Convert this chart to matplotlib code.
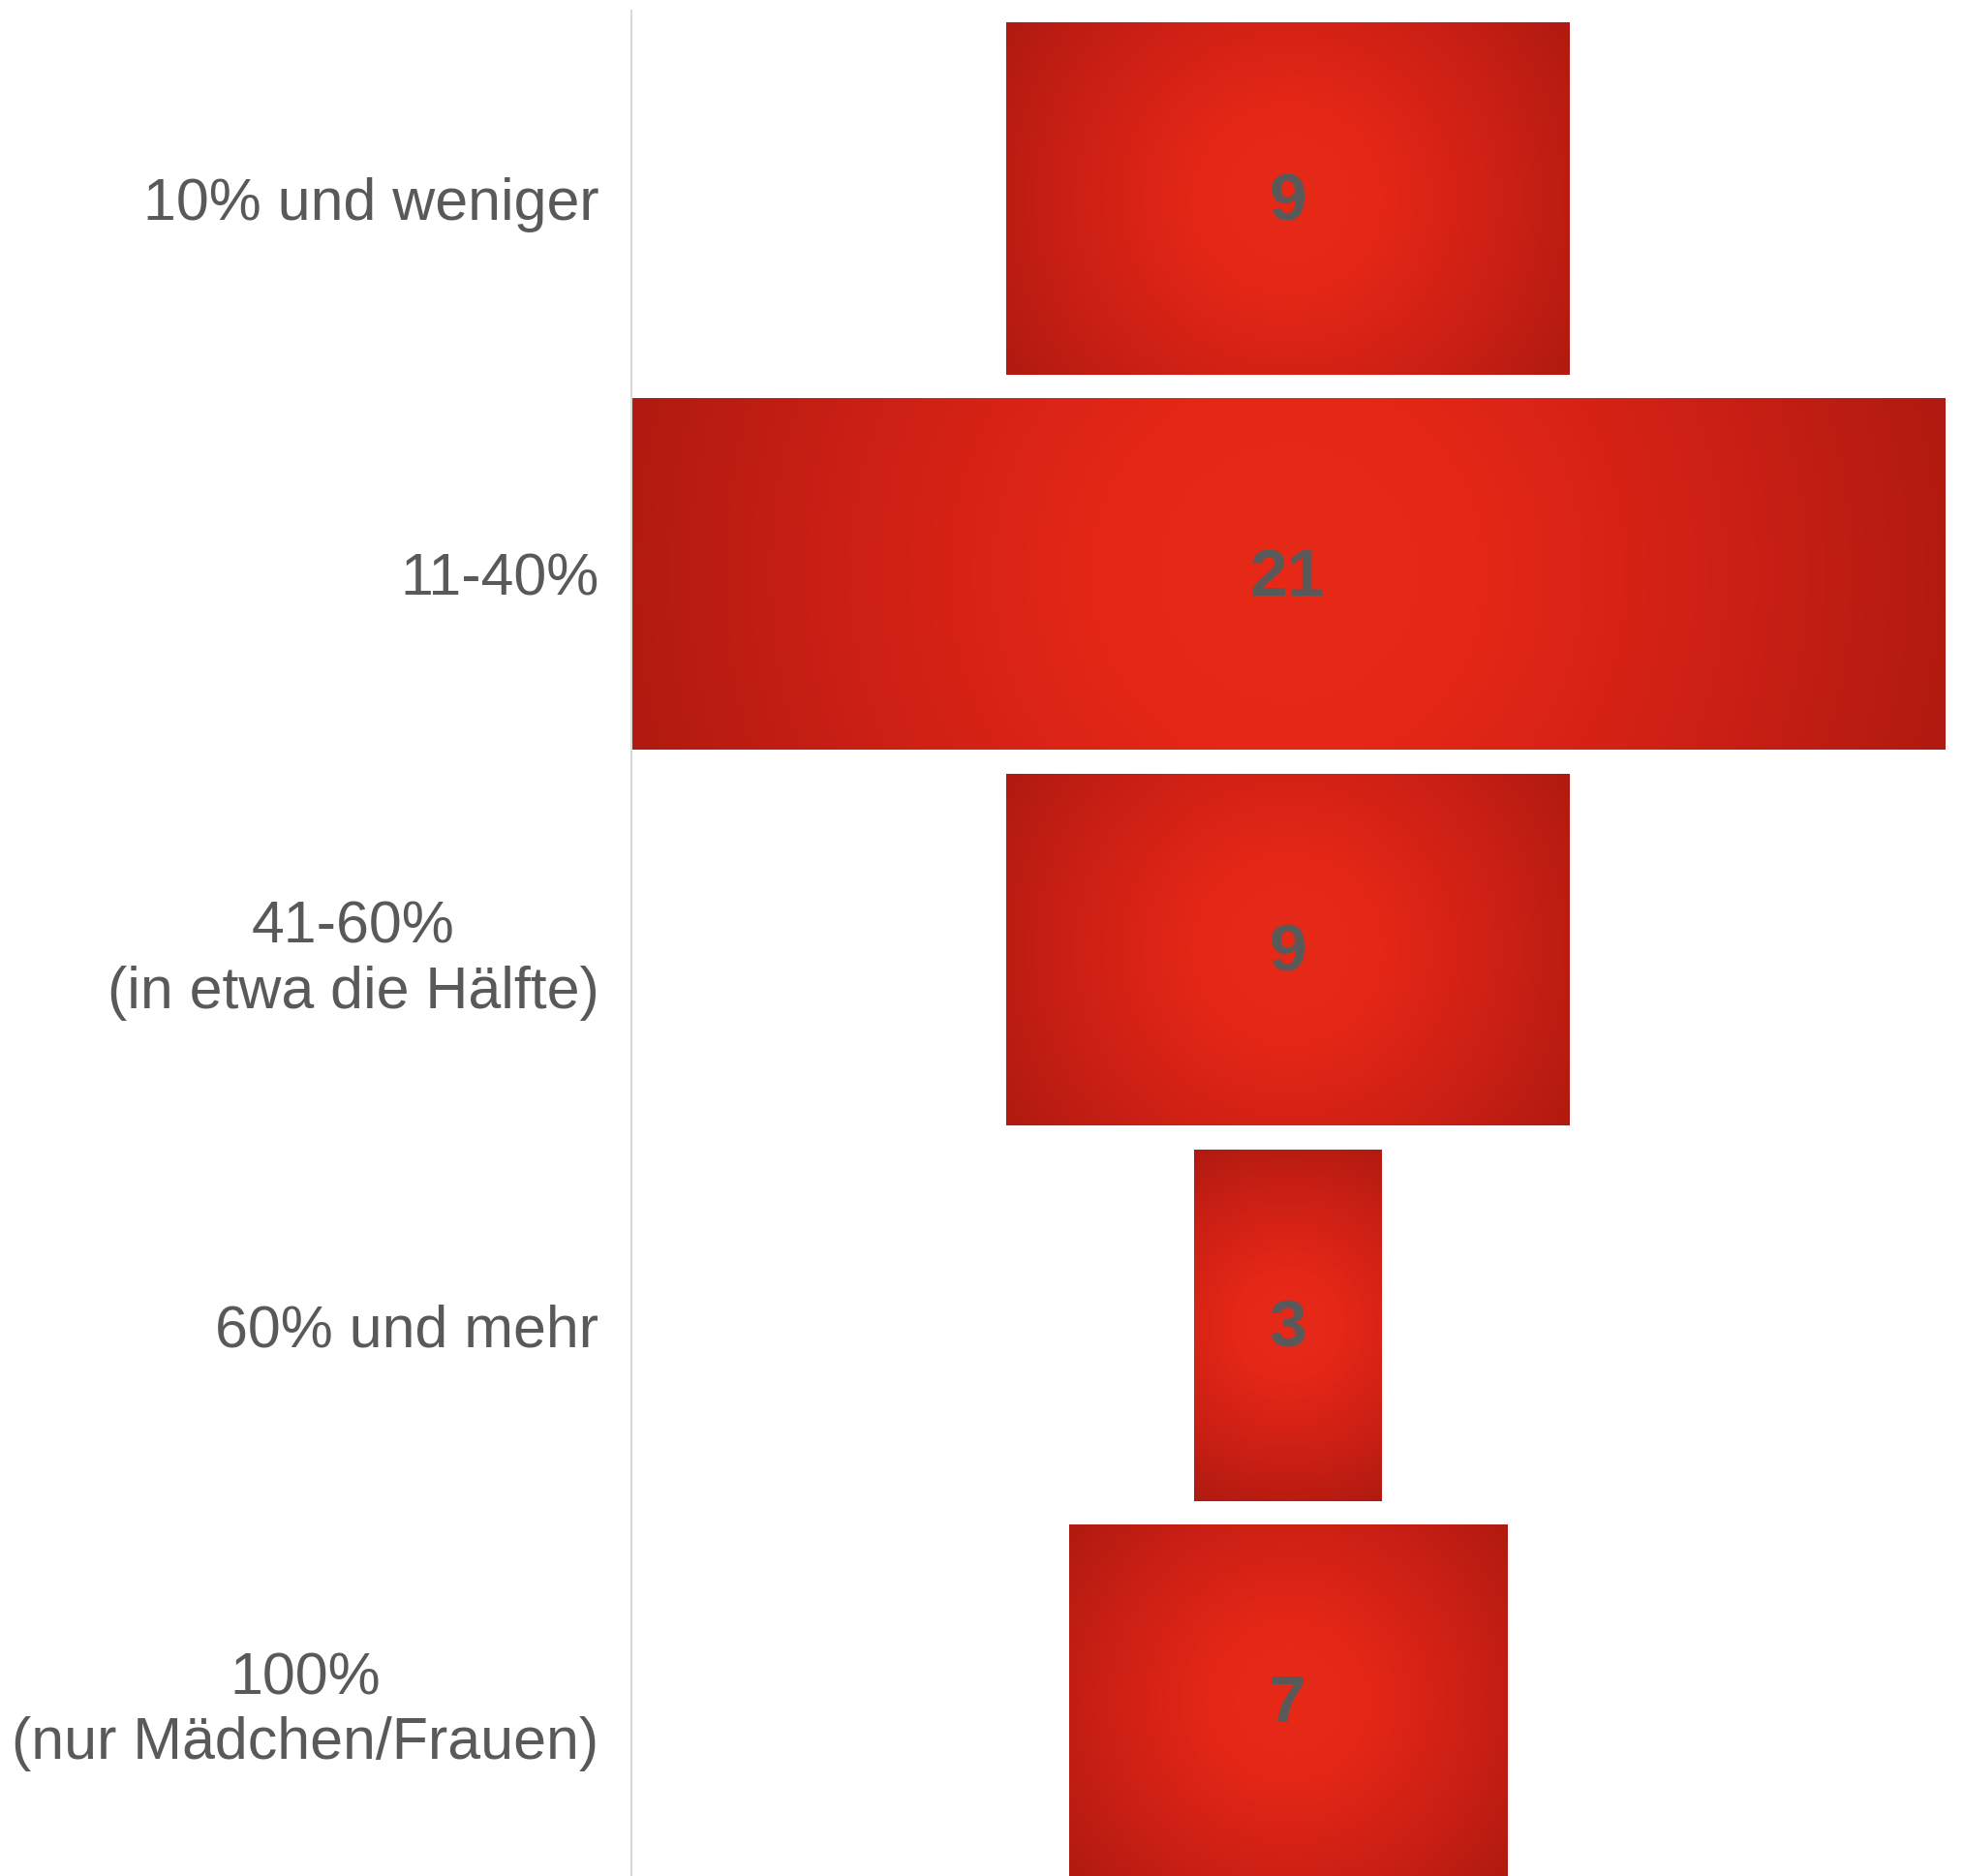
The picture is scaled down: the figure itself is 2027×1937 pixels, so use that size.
import numpy as np
import matplotlib
matplotlib.use("Agg")
import matplotlib.pyplot as plt
import matplotlib.transforms as mtransforms
from matplotlib.colors import LinearSegmentedColormap

categories = ["10% und weniger", "11-40%", "41-60%\n(in etwa die Hälfte)",
              "60% und mehr", "100%\n(nur Mädchen/Frauen)"]
values = [9, 21, 9, 3, 7]

W, H, DPI = 2027, 1937, 100
fig = plt.figure(figsize=(W / DPI, H / DPI), dpi=DPI)
fig.patch.set_facecolor("white")

ax_left = 651.6 / W
ax_width = (2007.7 - 651.6) / W
ax_top = 1 - 11.0 / H
ax_height = 5 * 387.8 / H
ax = fig.add_axes([ax_left, ax_top - ax_height, ax_width, ax_height])

vmax = max(values)
ypos = np.arange(len(values))
bar_h = 363.3 / 387.8

bars = ax.barh(ypos, values, left=[-v / 2 for v in values], height=bar_h,
               color="none", edgecolor="none")

ax.set_xlim(-vmax / 2, vmax / 2)
ax.set_ylim(len(values) - 0.5, -0.5)

cmap = LinearSegmentedColormap.from_list(
    "radred", [(0.0, "#E72A18"), (0.28, "#E42717"), (0.65, "#CC2015"), (1.0, "#B01A10")])

fig.canvas.draw()
px_per_x = ax.transData.transform((1, 0))[0] - ax.transData.transform((0, 0))[0]
px_per_y = abs(ax.transData.transform((0, 1))[1] - ax.transData.transform((0, 0))[1])

label_offset = mtransforms.ScaledTranslation(0, -3 / 72, fig.dpi_scale_trans)

for rect, v in zip(bars, values):
    x0, y0 = rect.get_x(), rect.get_y()
    w, h = rect.get_width(), rect.get_height()
    wpx, hpx = w * px_per_x, h * px_per_y
    nx, ny = max(int(wpx), 2), max(int(hpx), 2)
    xs = np.linspace(-wpx / 2, wpx / 2, nx)
    ys = np.linspace(-hpx / 2, hpx / 2, ny)
    X, Y = np.meshgrid(xs, ys)
    r = np.sqrt(X ** 2 + Y ** 2) / np.sqrt((wpx / 2) ** 2 + (hpx / 2) ** 2)
    im = ax.imshow(r, cmap=cmap, vmin=0, vmax=1, extent=(x0, x0 + w, y0 + h, y0),
                   interpolation="bilinear", zorder=2)
    im.set_clip_path(rect)
    ax.text(0, rect.get_y() + h / 2, str(v), ha="center", va="center",
            fontsize=50, fontweight="bold", color="#595959",
            family="Liberation Sans", zorder=3,
            transform=ax.transData + label_offset)

ax.set_aspect("auto")
ax.set_xlim(-vmax / 2, vmax / 2)
ax.set_ylim(len(values) - 0.5, -0.5)

ax.set_yticks(ypos)
ax.set_yticklabels(categories, fontsize=43.8, color="#595959",
                   family="Liberation Sans", multialignment="center", linespacing=1.22)
ax.tick_params(axis="y", length=0, pad=24)
ax.set_xticks([])
for s in ["top", "right", "bottom"]:
    ax.spines[s].set_visible(False)
ax.spines["left"].set_color("#D9D9D9")
ax.spines["left"].set_linewidth(1.5)
ax.set_facecolor("white")

fig.savefig("out.png", dpi=DPI, facecolor="white")
